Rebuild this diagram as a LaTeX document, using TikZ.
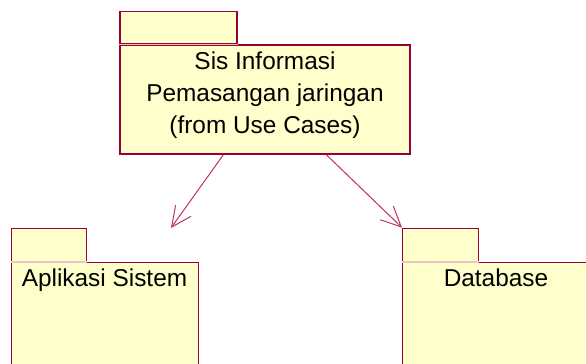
\documentclass[tikz,border=0pt]{standalone}
\usepackage{fontspec}
\setmainfont{Liberation Sans}
\usetikzlibrary{arrows.meta}
\definecolor{pkgfill}{RGB}{255,255,204}
\definecolor{pkgline}{RGB}{153,0,51}
\definecolor{pkgseam}{RGB}{238,196,196}
\definecolor{deplink}{RGB}{190,50,100}
\tikzset{pkg/.style={draw=pkgline,fill=pkgfill,line width=0.7pt,inner sep=0pt}}
\tikzset{seam/.style={draw=pkgseam,line width=0.7pt}}
\tikzset{dep/.style={draw=deplink,line width=0.5pt,-{Straight Barb[length=10pt,width=9.5pt]}}}
\tikzset{pkgtext/.style={font=\fontsize{12.2}{16}\selectfont,align=center}}

\begin{document}
\begin{tikzpicture}[x=0.5pt,y=-0.5pt]
        \clip (0,0) rectangle (586,364);
        % package bodies and tabs
        \node[pkg,minimum width=145pt,minimum height=54.5pt] (sis) at (265,99.5) {};
        \node[pkg,minimum width=58.5pt,minimum height=16pt,anchor=south west] (sisTab) at (sis.north west) {};
        \node[pkg,minimum width=93.5pt,minimum height=60pt,anchor=north west] (apl) at (11,262) {};
        \node[pkg,minimum width=37.5pt,minimum height=16.5pt,anchor=south west] (aplTab) at (apl.north west) {};
        \node[pkg,minimum width=94pt,minimum height=60pt,anchor=north west] (dbase) at (402,262) {};
        \node[pkg,minimum width=38pt,minimum height=16.5pt,anchor=south west] (dbaseTab) at (dbase.north west) {};
        \draw[seam] (sisTab.south west) -- (sisTab.south east);
        \draw[seam] (aplTab.south west) -- (aplTab.south east);
        \draw[seam] (dbaseTab.south west) -- (dbaseTab.south east);
        % names
        \node[pkgtext] (sisName) at (265,95) {Sis Informasi\\Pemasangan jaringan\\(from Use Cases)};
        \node[pkgtext,anchor=base] (aplName) at (104.5,287) {Aplikasi Sistem};
        \node[pkgtext,anchor=base] (dbaseName) at (496,287) {Database};
        % dependencies
        \coordinate (aplEnd) at (171,228);
        \draw[dep] (sis.233) -- (aplEnd);
        \draw[dep] (sis.318) -- (dbaseTab.north west);
    \end{tikzpicture}
\end{document}
